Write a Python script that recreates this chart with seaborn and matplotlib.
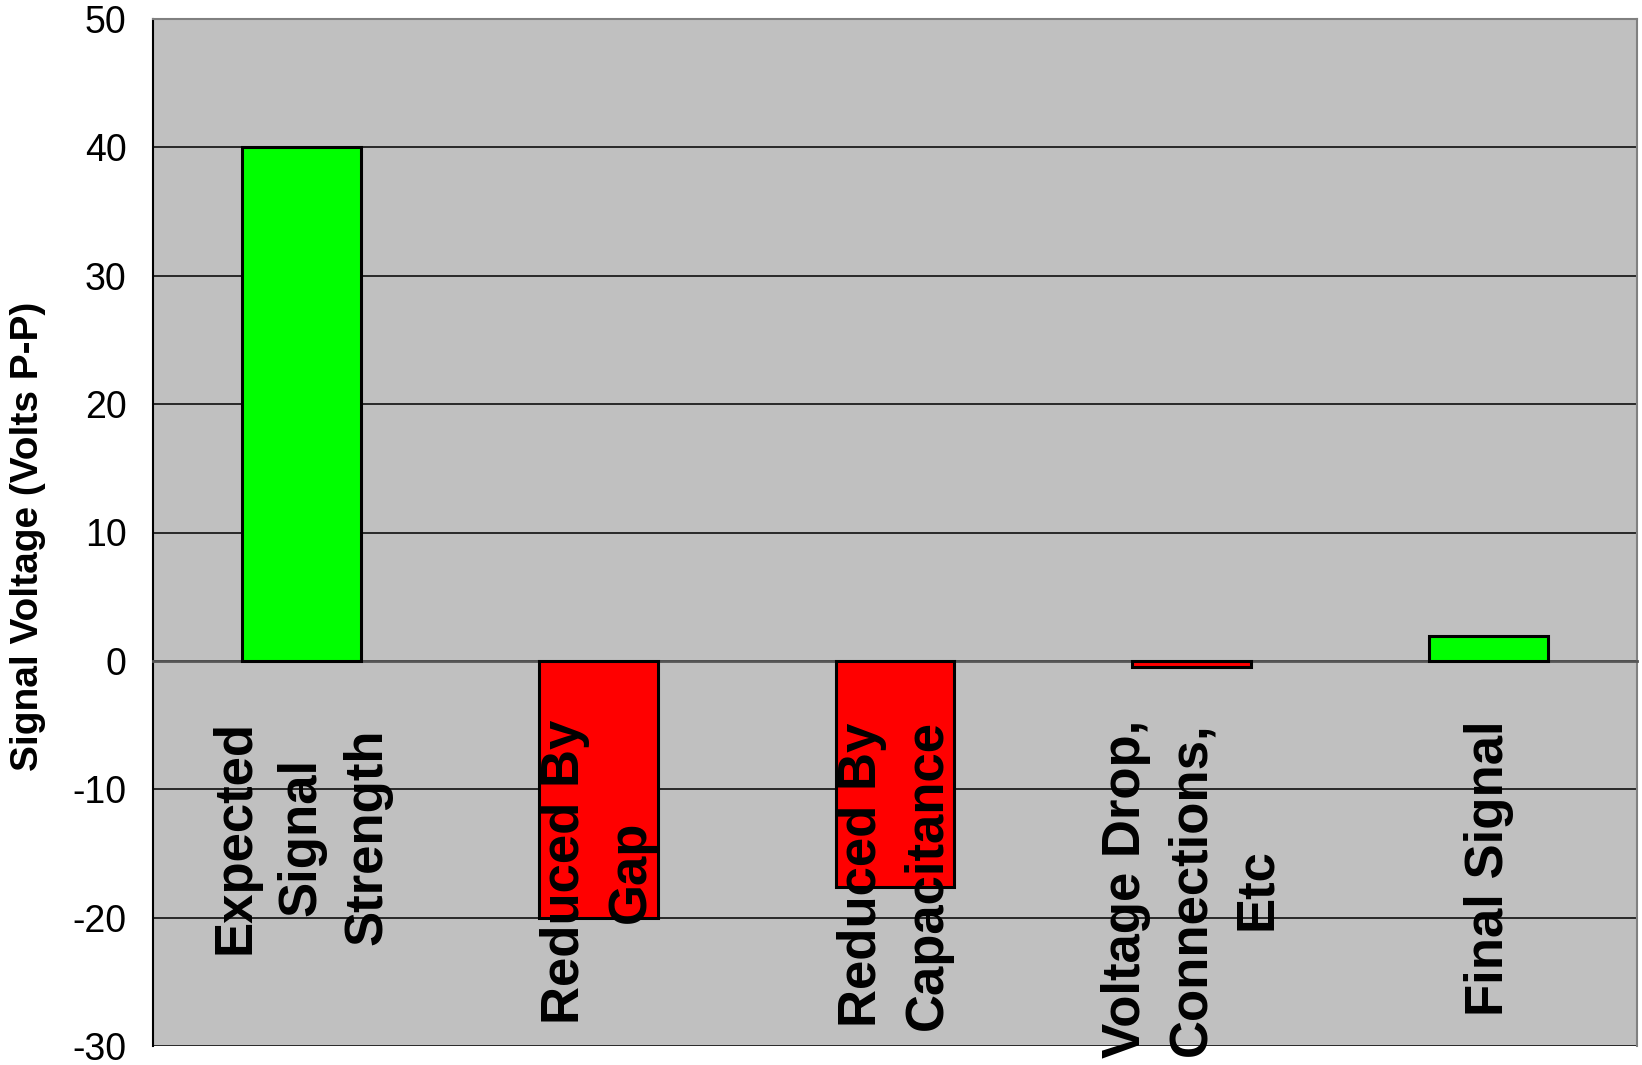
import matplotlib
matplotlib.use("Agg")
import matplotlib.pyplot as plt
import seaborn as sns
import numpy as np

categories = ["Expected\nSignal\nStrength", "Reduced By\nGap", "Reduced By\nCapacitance",
              "Voltage Drop,\nConnections,\nEtc", "Final Signal"]
values = [40, -20, -17.6, -0.5, 1.9]
bar_colors = ["#00FF00", "#FF0000", "#FF0000", "#FF0000", "#00FF00"]
y_ticks = [-30, -20, -10, 0, 10, 20, 30, 40, 50]

sns.set_style("white")
plt.rcParams['font.family'] = ['Liberation Sans', 'DejaVu Sans']

fig = plt.figure(figsize=(16.42, 10.65), dpi=100)
ax = fig.add_axes([153/1642, 19/1065, (1637-153)/1642, (1046-19)/1065])
ax.set_facecolor("#C0C0C0")

sns.barplot(x=list(range(len(categories))), y=values, hue=list(range(len(categories))),
            palette=bar_colors, legend=False, edgecolor="black", linewidth=2.2,
            width=0.4, ax=ax, zorder=3, saturation=1)

ax.set_xlim(-0.5, len(categories) - 0.5)
ax.set_ylim(-30, 50)
ax.set_yticks(y_ticks)
ax.set_yticklabels([str(v) for v in y_ticks], fontsize=27, color="black")
ax.yaxis.grid(True, color="black", linewidth=1.1, zorder=0)
ax.set_axisbelow(True)

# x axis at zero
ax.spines['bottom'].set_position(('data', 0))
ax.spines['bottom'].set_color("#555555")
ax.spines['bottom'].set_linewidth(2)
ax.spines['left'].set_color("black")
ax.spines['left'].set_linewidth(1.5)
for s in ['top', 'right']:
    ax.spines[s].set_color("#808080")
    ax.spines[s].set_linewidth(1.5)

ax.set_xticks(np.arange(len(categories) + 1) - 0.5)
ax.set_xticklabels([])
ax.tick_params(axis='x', which='major', direction='out', length=11, width=1.5, color="#555555")
ax.tick_params(axis='y', direction='out', length=7, width=1.2, color="black", pad=12)

# category labels drawn above bars
for i, lab in enumerate(categories):
    ax.annotate(lab, xy=(i, 0), xytext=(0, -59), textcoords="offset pixels",
                rotation=90, ha="center", va="top", multialignment="center",
                fontsize=38, fontweight="bold", color="black", linespacing=1.4,
                zorder=6, annotation_clip=False)

fig.text(28/1642, 1 - 536/1065, "Signal Voltage (Volts P-P)", rotation=90,
         ha="center", va="center", fontsize=28, fontweight="bold", color="black")

fig.savefig("out.png", dpi=100)
